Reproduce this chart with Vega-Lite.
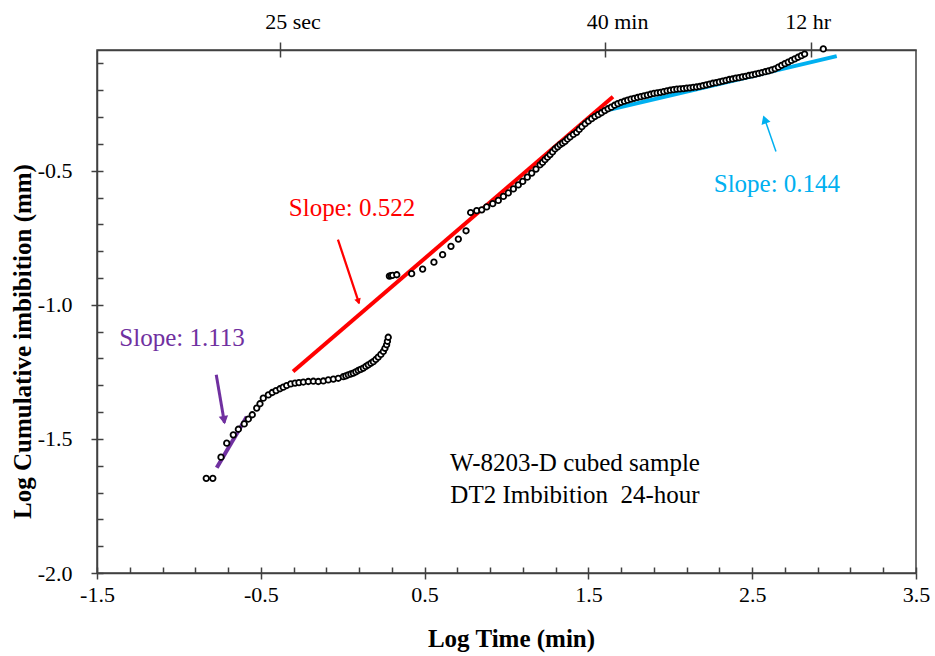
{
  "$schema": "https://vega.github.io/schema/vega-lite/v6.json",
  "width": 819,
  "height": 523,
  "autosize": {"type": "none"},
  "padding": {"left": 97, "top": 50, "right": 19, "bottom": 83},
  "background": "white",
  "config": {
    "font": "Liberation Serif",
    "view": {"stroke": "#404040", "strokeWidth": 1.5},
    "axis": {
      "grid": false,
      "domainColor": "#404040",
      "domainWidth": 1.5,
      "tickColor": "#404040",
      "tickWidth": 1.5,
      "labelColor": "#000000",
      "titleColor": "#000000",
      "labelFont": "Liberation Serif",
      "titleFont": "Liberation Serif",
      "labelFontSize": 22,
      "titleFontSize": 25,
      "labelOverlap": false,
      "labelFlush": false
    }
  },
  "datasets": {
    "pts": [
      {"x": -0.833, "y": -1.647}, {"x": -0.793, "y": -1.647}, {"x": -0.743, "y": -1.568}, {"x": -0.708, "y": -1.516},
      {"x": -0.668, "y": -1.485}, {"x": -0.637, "y": -1.464}, {"x": -0.601, "y": -1.444}, {"x": -0.576, "y": -1.426},
      {"x": -0.552, "y": -1.410}, {"x": -0.525, "y": -1.385}, {"x": -0.505, "y": -1.369}, {"x": -0.485, "y": -1.348},
      {"x": -0.454, "y": -1.336}, {"x": -0.430, "y": -1.327}, {"x": -0.407, "y": -1.320}, {"x": -0.383, "y": -1.313},
      {"x": -0.363, "y": -1.307}, {"x": -0.342, "y": -1.301}, {"x": -0.317, "y": -1.295}, {"x": -0.291, "y": -1.292},
      {"x": -0.267, "y": -1.290}, {"x": -0.240, "y": -1.288}, {"x": -0.210, "y": -1.286}, {"x": -0.179, "y": -1.285},
      {"x": -0.149, "y": -1.286}, {"x": -0.118, "y": -1.284}, {"x": -0.088, "y": -1.280}, {"x": -0.057, "y": -1.277},
      {"x": -0.027, "y": -1.274}, {"x": 0.004, "y": -1.268}, {"x": 0.019, "y": -1.265}, {"x": 0.034, "y": -1.261},
      {"x": 0.050, "y": -1.258}, {"x": 0.065, "y": -1.255}, {"x": 0.080, "y": -1.250}, {"x": 0.095, "y": -1.245},
      {"x": 0.110, "y": -1.241}, {"x": 0.126, "y": -1.236}, {"x": 0.141, "y": -1.230}, {"x": 0.156, "y": -1.224},
      {"x": 0.172, "y": -1.218}, {"x": 0.187, "y": -1.212}, {"x": 0.202, "y": -1.204}, {"x": 0.217, "y": -1.195},
      {"x": 0.233, "y": -1.185}, {"x": 0.248, "y": -1.174}, {"x": 0.258, "y": -1.162}, {"x": 0.268, "y": -1.149},
      {"x": 0.273, "y": -1.136}, {"x": 0.278, "y": -1.121},
      {"x": 0.285, "y": -0.893}, {"x": 0.295, "y": -0.891}, {"x": 0.305, "y": -0.890}, {"x": 0.330, "y": -0.888},
      {"x": 0.421, "y": -0.884}, {"x": 0.488, "y": -0.867}, {"x": 0.557, "y": -0.841}, {"x": 0.610, "y": -0.813},
      {"x": 0.661, "y": -0.782}, {"x": 0.706, "y": -0.755}, {"x": 0.753, "y": -0.724},
      {"x": 0.781, "y": -0.656}, {"x": 0.818, "y": -0.649}, {"x": 0.849, "y": -0.646}, {"x": 0.879, "y": -0.635},
      {"x": 0.916, "y": -0.623}, {"x": 0.950, "y": -0.611}, {"x": 0.981, "y": -0.596}, {"x": 1.011, "y": -0.583},
      {"x": 1.042, "y": -0.568}, {"x": 1.072, "y": -0.553}, {"x": 1.099, "y": -0.540}, {"x": 1.127, "y": -0.524},
      {"x": 1.154, "y": -0.509}, {"x": 1.180, "y": -0.494}, {"x": 1.205, "y": -0.478}, {"x": 1.220, "y": -0.469},
      {"x": 1.235, "y": -0.459}, {"x": 1.250, "y": -0.450}, {"x": 1.266, "y": -0.440}, {"x": 1.281, "y": -0.430},
      {"x": 1.296, "y": -0.419}, {"x": 1.312, "y": -0.411}, {"x": 1.327, "y": -0.403}, {"x": 1.342, "y": -0.397},
      {"x": 1.357, "y": -0.391}, {"x": 1.372, "y": -0.382}, {"x": 1.388, "y": -0.374}, {"x": 1.408, "y": -0.365},
      {"x": 1.428, "y": -0.357}, {"x": 1.444, "y": -0.346},
      {"x": 1.46, "y": -0.336}, {"x": 1.48, "y": -0.325}, {"x": 1.50, "y": -0.315}, {"x": 1.52, "y": -0.306},
      {"x": 1.54, "y": -0.298}, {"x": 1.56, "y": -0.291}, {"x": 1.58, "y": -0.284}, {"x": 1.60, "y": -0.276},
      {"x": 1.62, "y": -0.269}, {"x": 1.64, "y": -0.263}, {"x": 1.66, "y": -0.256}, {"x": 1.68, "y": -0.250},
      {"x": 1.70, "y": -0.245}, {"x": 1.72, "y": -0.241}, {"x": 1.74, "y": -0.237}, {"x": 1.76, "y": -0.233},
      {"x": 1.78, "y": -0.230}, {"x": 1.80, "y": -0.227}, {"x": 1.82, "y": -0.224}, {"x": 1.84, "y": -0.221},
      {"x": 1.86, "y": -0.218}, {"x": 1.88, "y": -0.215}, {"x": 1.90, "y": -0.212}, {"x": 1.92, "y": -0.210},
      {"x": 1.94, "y": -0.208}, {"x": 1.96, "y": -0.205}, {"x": 1.98, "y": -0.202}, {"x": 2.00, "y": -0.200},
      {"x": 2.02, "y": -0.198}, {"x": 2.04, "y": -0.196}, {"x": 2.06, "y": -0.195}, {"x": 2.08, "y": -0.194},
      {"x": 2.10, "y": -0.192}, {"x": 2.12, "y": -0.191}, {"x": 2.14, "y": -0.189}, {"x": 2.16, "y": -0.188},
      {"x": 2.18, "y": -0.186}, {"x": 2.20, "y": -0.183}, {"x": 2.22, "y": -0.180}, {"x": 2.24, "y": -0.177},
      {"x": 2.26, "y": -0.174}, {"x": 2.28, "y": -0.172}, {"x": 2.30, "y": -0.169}, {"x": 2.32, "y": -0.166},
      {"x": 2.34, "y": -0.163}, {"x": 2.36, "y": -0.160}, {"x": 2.38, "y": -0.158}, {"x": 2.40, "y": -0.155},
      {"x": 2.42, "y": -0.153}, {"x": 2.44, "y": -0.150}, {"x": 2.46, "y": -0.148}, {"x": 2.48, "y": -0.145},
      {"x": 2.50, "y": -0.143}, {"x": 2.52, "y": -0.140}, {"x": 2.54, "y": -0.137}, {"x": 2.56, "y": -0.134},
      {"x": 2.58, "y": -0.131}, {"x": 2.60, "y": -0.128}, {"x": 2.62, "y": -0.124}, {"x": 2.64, "y": -0.120},
      {"x": 2.66, "y": -0.114}, {"x": 2.68, "y": -0.107}, {"x": 2.70, "y": -0.101}, {"x": 2.72, "y": -0.095},
      {"x": 2.74, "y": -0.089}, {"x": 2.76, "y": -0.083}, {"x": 2.78, "y": -0.077}, {"x": 2.80, "y": -0.071},
      {"x": 2.82, "y": -0.065}, {"x": 2.934, "y": -0.046}
    ],
    "fits": [
      {"series": "early", "x": -0.769, "y": -1.608}, {"series": "early", "x": -0.586, "y": -1.417},
      {"series": "middle", "x": -0.303, "y": -1.249}, {"series": "middle", "x": 1.650, "y": -0.224},
      {"series": "late", "x": 1.600, "y": -0.277}, {"series": "late", "x": 3.016, "y": -0.073}
    ],
    "arrows": [
      {"series": "early", "x": -0.772, "y": -1.261, "x2": -0.722, "y2": -1.440},
      {"series": "middle", "x": -0.029, "y": -0.757, "x2": 0.100, "y2": -0.995},
      {"series": "late", "x": 2.645, "y": -0.428, "x2": 2.572, "y2": -0.300}
    ],
    "heads": [
      {"series": "early", "x": -0.724, "y": -1.430},
      {"series": "middle", "x": 0.096, "y": -0.988},
      {"series": "late", "x": 2.576, "y": -0.309}
    ],
    "labels": [
      {"series": "early", "x": -0.981, "y": -1.123, "text": "Slope: 1.113"},
      {"series": "middle", "x": 0.057, "y": -0.638, "text": "Slope: 0.522"},
      {"series": "late", "x": 2.651, "y": -0.549, "text": "Slope: 0.144"},
      {"series": "note", "x": 1.418, "y": -1.590, "text": "W-8203-D cubed sample"},
      {"series": "note", "x": 1.418, "y": -1.709, "text": "DT2 Imbibition\u00a0 24-hour"}
    ]
  },
  "resolve": {"axis": {"x": "independent", "y": "independent"}},
  "layer": [
    {
      "data": {"name": "fits"},
      "mark": {"type": "line", "strokeWidth": 4, "strokeCap": "butt"},
      "encoding": {
        "x": {"field": "x", "type": "quantitative", "scale": {"domain": [-1.5, 3.5], "nice": false, "zero": false},
          "axis": {"orient": "bottom", "values": [-1.5, -1.3, -1.1, -0.9, -0.7, -0.5, -0.3, -0.1, 0.1, 0.3, 0.5, 0.7, 0.9, 1.1, 1.3, 1.5, 1.7, 1.9, 2.1, 2.3, 2.5, 2.7, 2.9, 3.1, 3.3, 3.5],
            "tickSize": -6, "labels": false, "domain": false, "title": null}},
        "y": {"field": "y", "type": "quantitative", "scale": {"domain": [-2.0, -0.05], "nice": false, "zero": false},
          "axis": {"orient": "left", "values": [-2.0, -1.9, -1.8, -1.7, -1.6, -1.5, -1.4, -1.3, -1.2, -1.1, -1.0, -0.9, -0.8, -0.7, -0.6, -0.5, -0.4, -0.3, -0.2, -0.1],
            "tickSize": -6, "labels": false, "domain": false, "title": null}},
        "color": {"field": "series", "type": "nominal", "scale": {"domain": ["early", "middle", "late", "note"], "range": ["#7030A0", "#FF0000", "#00B0F0", "#000000"]}, "legend": null}
      }
    },
    {
      "data": {"name": "arrows"},
      "mark": {"type": "rule"},
      "encoding": {
        "x": {"field": "x", "type": "quantitative",
          "axis": {"orient": "top", "values": [-0.38, 1.602, 2.857], "tickSize": 8, "labelPadding": 9,
            "labelOffset": {"condition": {"test": "datum.value > 2", "value": -3}, "value": 12},
            "labelExpr": "datum.value < 0 ? '25 sec' : (datum.value < 2 ? '40 min' : '12 hr')", "title": null}},
        "x2": {"field": "x2"},
        "y": {"field": "y", "type": "quantitative", "axis": null},
        "y2": {"field": "y2"},
        "color": {"field": "series", "type": "nominal", "legend": null},
        "strokeWidth": {"field": "series", "type": "nominal", "scale": {"domain": ["early", "middle", "late"], "range": [3, 1.5, 3]}, "legend": null}
      }
    },
    {
      "data": {"name": "heads"},
      "transform": [{"filter": "datum.series == 'early'"}],
      "mark": {"type": "point", "shape": "triangle-down", "filled": true, "size": 90, "angle": -9.4, "opacity": 1},
      "encoding": {
        "x": {"field": "x", "type": "quantitative",
          "axis": {"orient": "top", "values": [-0.38, 1.602, 2.857], "tickSize": -7, "labels": false, "domain": false, "title": null}},
        "y": {"field": "y", "type": "quantitative", "axis": null},
        "color": {"field": "series", "type": "nominal", "legend": null}
      }
    },
    {
      "data": {"name": "heads"},
      "transform": [{"filter": "datum.series == 'middle'"}],
      "mark": {"type": "point", "shape": "triangle-down", "filled": true, "size": 45, "angle": -18.3, "opacity": 1},
      "encoding": {
        "x": {"field": "x", "type": "quantitative", "axis": null},
        "y": {"field": "y", "type": "quantitative", "axis": null},
        "color": {"field": "series", "type": "nominal", "legend": null}
      }
    },
    {
      "data": {"name": "heads"},
      "transform": [{"filter": "datum.series == 'late'"}],
      "mark": {"type": "point", "shape": "triangle-up", "filled": true, "size": 90, "angle": -19.5, "opacity": 1},
      "encoding": {
        "x": {"field": "x", "type": "quantitative", "axis": null},
        "y": {"field": "y", "type": "quantitative", "axis": null},
        "color": {"field": "series", "type": "nominal", "legend": null}
      }
    },
    {
      "data": {"name": "pts"},
      "mark": {"type": "point", "shape": "circle", "fill": "white", "stroke": "black", "fillOpacity": 1, "strokeOpacity": 1, "strokeWidth": 1.8, "size": 30, "clip": false},
      "encoding": {
        "x": {"field": "x", "type": "quantitative",
          "axis": {"orient": "bottom", "values": [-1.5, -0.5, 0.5, 1.5, 2.5, 3.5], "tickSize": 6, "labelPadding": 5, "labelBaseline": "top",
            "labelExpr": "(datum.value < 0 ? '-' : '') + format(abs(datum.value), '.1f')",
            "title": "Log Time (min)", "titleFontWeight": "bold", "titleX": 414, "titleY": 65, "titleBaseline": "middle", "titleAnchor": null}},
        "y": {"field": "y", "type": "quantitative",
          "axis": {"orient": "left", "values": [-2.0, -1.5, -1.0, -0.5], "tickSize": 6, "labelPadding": 19,
            "labelExpr": "(datum.value < 0 ? '-' : '') + format(abs(datum.value), '.1f')",
            "title": "Log Cumulative imbibition (mm)", "titleFontWeight": "bold", "titleAngle": -90, "titleX": -75, "titleY": 291, "titleBaseline": "middle", "titleAlign": "center", "titleAnchor": null}}
      }
    },
    {
      "data": {"name": "labels"},
      "mark": {"type": "text", "fontSize": 25, "font": "Liberation Serif", "align": "center", "baseline": "middle"},
      "encoding": {
        "x": {"field": "x", "type": "quantitative", "axis": null},
        "y": {"field": "y", "type": "quantitative", "axis": null},
        "text": {"field": "text"},
        "color": {"field": "series", "type": "nominal", "legend": null}
      }
    }
  ]
}
